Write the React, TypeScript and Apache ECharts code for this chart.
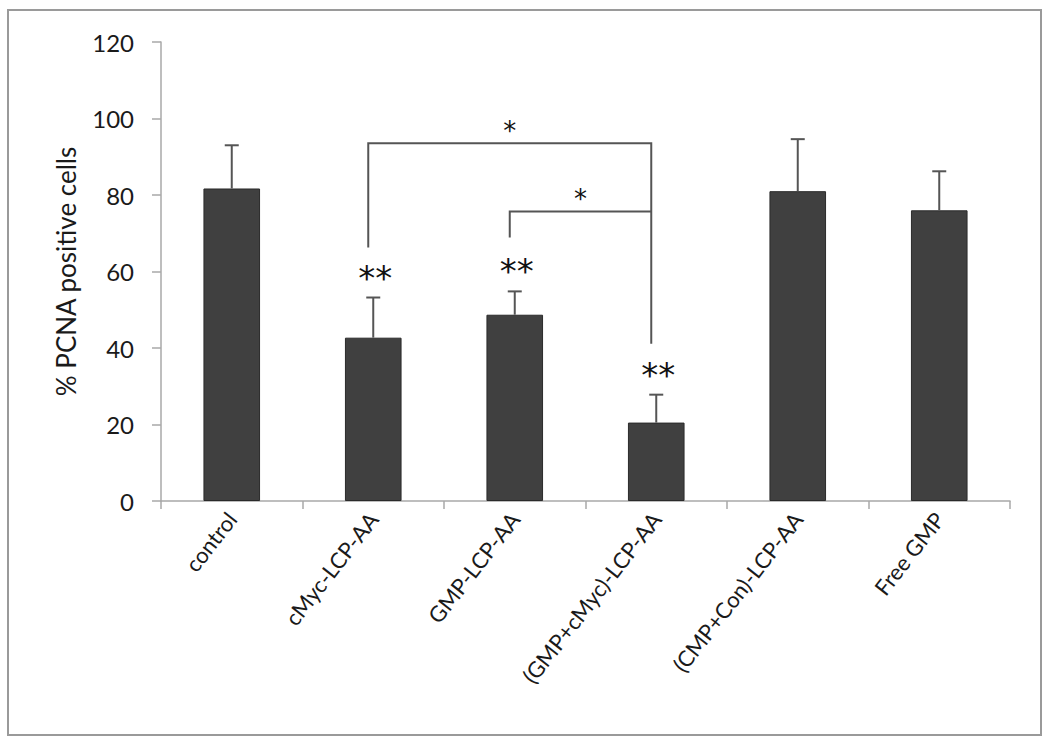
import React, { useEffect, useRef } from "react";
import * as echarts from "echarts";

const categories = [
  "control",
  "cMyc-LCP-AA",
  "GMP-LCP-AA",
  "(GMP+cMyc)-LCP-AA",
  "(CMP+Con)-LCP-AA",
  "Free GMP",
];
const means = [81.7, 42.7, 48.7, 20.5, 81.0, 76.0];
const upperErr = [93.0, 53.2, 54.8, 27.8, 94.6, 86.2];
const sigMarks = ["", "**", "**", "**", "", ""];

// brackets: left category, right category, top value, left leg end, right leg end, label
const bracketLeft = [1, 2];
const bracketRight = [3, 3];
const bracketTop = [93.5, 75.7];
const bracketLeftEnd = [66.3, 68.9];
const bracketRightEnd = [41.1, 75.7];
const bracketLabel = ["*", "*"];

const yTicks = [0, 20, 40, 60, 80, 100, 120];

const FONT = "Lato, 'Open Sans', sans-serif";

export default function App() {
  const ref = useRef<HTMLDivElement>(null);
  useEffect(() => {
    if (!ref.current) return;
    const chart = echarts.init(ref.current, null, { renderer: "svg" });
    const errData = categories.map((_, i) => [i, means[i], upperErr[i]]);
    const brData = bracketLeft.map((l, i) => [
      l,
      bracketRight[i],
      bracketTop[i],
      bracketLeftEnd[i],
      bracketRightEnd[i],
      i,
    ]);
    chart.setOption({
      animation: false,
      backgroundColor: "#ffffff",
      textStyle: { fontFamily: FONT },
      graphic: [
        {
          type: "rect",
          shape: { x: 8, y: 10, width: 1033, height: 725 },
          style: { fill: "none", stroke: "#9a9a9a", lineWidth: 2 },
          silent: true,
        },
      ],
      grid: { left: 161, right: 40, top: 42, bottom: 238 },
      xAxis: {
        type: "category",
        data: categories,
        axisLine: { lineStyle: { color: "#a8a8a8", width: 1.5 } },
        axisTick: { show: true, length: 8, lineStyle: { color: "#a8a8a8", width: 1.5 } },
        axisLabel: {
          interval: 0,
          rotate: 52,
          margin: 14,
          fontSize: 22,
          color: "#1a1a1a",
          fontFamily: FONT,
        },
      },
      yAxis: {
        type: "value",
        min: 0,
        max: yTicks[yTicks.length - 1],
        interval: 20,
        name: "% PCNA positive cells",
        nameLocation: "middle",
        nameRotate: 90,
        nameGap: 82,
        nameTextStyle: { fontSize: 26, color: "#1a1a1a", fontFamily: FONT },
        axisLine: { show: true, lineStyle: { color: "#a8a8a8", width: 1.5 } },
        axisTick: { show: true, length: 9, lineStyle: { color: "#a8a8a8", width: 1.5 } },
        splitLine: { show: false },
        axisLabel: { fontSize: 24, margin: 27, color: "#1a1a1a", fontFamily: FONT },
      },
      series: [
        {
          type: "bar",
          data: means,
          barWidth: "40%",
          itemStyle: { color: "#404040", borderColor: "#2a2a2a", borderWidth: 1 },
          silent: true,
        },
        {
          type: "custom",
          data: errData,
          silent: true,
          z: 5,
          renderItem: (params: any, api: any) => {
            const idx = api.value(0);
            const base = api.coord([idx, api.value(1)]);
            const top = api.coord([idx, api.value(2)]);
            const children: any[] = [
              {
                type: "line",
                shape: { x1: base[0], y1: base[1], x2: base[0], y2: top[1] },
                style: { stroke: "#555555", lineWidth: 2 },
              },
              {
                type: "line",
                shape: { x1: base[0] - 7, y1: top[1], x2: base[0] + 7, y2: top[1] },
                style: { stroke: "#555555", lineWidth: 2 },
              },
            ];
            const mark = sigMarks[idx];
            if (mark) {
              children.push({
                type: "text",
                style: {
                  text: mark,
                  x: base[0] + 2,
                  y: top[1] - 20,
                  align: "center",
                  verticalAlign: "middle",
                  fontSize: 34,
                  fontFamily: "'DejaVu Sans', sans-serif",
                  fill: "#111111",
                },
              });
            }
            return { type: "group", children };
          },
        },
        {
          type: "custom",
          data: brData,
          silent: true,
          z: 5,
          renderItem: (params: any, api: any) => {
            const l = api.value(0);
            const r = api.value(1);
            const topL = api.coord([l, api.value(2)]);
            const topR = api.coord([r, api.value(2)]);
            const endL = api.coord([l, api.value(3)]);
            const endR = api.coord([r, api.value(4)]);
            const off = -5;
            const xl = topL[0] + off;
            const xr = topR[0] + off;
            const st = { stroke: "#555555", lineWidth: 2, fill: "none" };
            return {
              type: "group",
              children: [
                {
                  type: "polyline",
                  shape: {
                    points: [
                      [xl, endL[1]],
                      [xl, topL[1]],
                      [xr, topR[1]],
                      [xr, endR[1]],
                    ],
                  },
                  style: st,
                },
                {
                  type: "text",
                  style: {
                    text: bracketLabel[api.value(5)],
                    x: (xl + xr) / 2,
                    y: topL[1] - 12,
                    align: "center",
                    verticalAlign: "middle",
                    fontSize: 26,
                    fontFamily: "'DejaVu Sans', sans-serif",
                    fill: "#111111",
                  },
                },
              ],
            };
          },
        },
      ],
    });
    return () => chart.dispose();
  }, []);
  return (
    <div
      ref={ref}
      style={{ position: "fixed", left: 0, top: 0, width: 1050, height: 739, background: "#fff" }}
    />
  );
}
